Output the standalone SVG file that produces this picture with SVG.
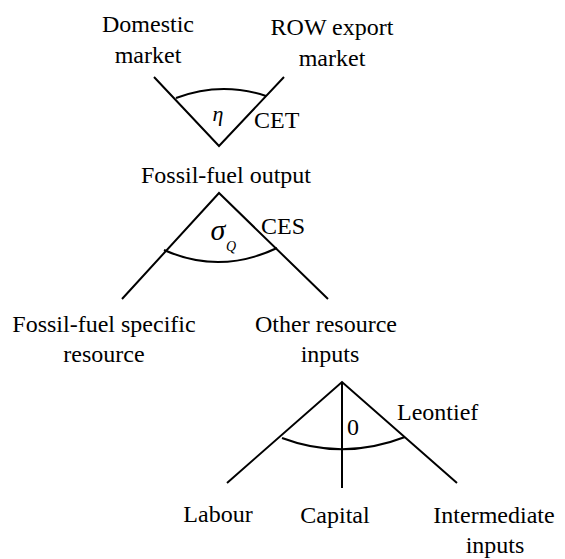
<svg xmlns="http://www.w3.org/2000/svg" width="565" height="559" viewBox="0 0 565 559" font-family="'Liberation Serif', 'Times New Roman', Times, 'DejaVu Serif', serif">
<style>
text{font-family:'Liberation Serif','Times New Roman',Times,'DejaVu Serif',serif;font-size:24px;fill:#000;text-anchor:middle}
.ln{stroke:#000;stroke-width:2;fill:none}
.it{font-style:italic}
.st{text-anchor:start}
</style>
<rect width="565" height="559" fill="#fff"/>
<g id="connectors">
<path class="ln" d="M154,77 L219,146 L284,77"/>
<path class="ln" d="M176,98 Q221,81 266,96"/>
<path class="ln" d="M122,299 L219,193 L328,299"/>
<path class="ln" d="M164,250 Q220,275 277,248"/>
<path class="ln" d="M227,483 L342,382 L457,483"/>
<path class="ln" d="M342,382 L342,488"/>
<path class="ln" d="M282,438 Q343,461 405,437"/>
</g>
<g id="domestic"><text x="148" y="32">Domestic</text><text x="148" y="63">market</text></g>
<g id="row"><text x="332" y="35">ROW export</text><text x="332" y="66">market</text></g>
<g id="cet"><text class="it" x="218" y="121" style="font-size:22px">η</text><text class="st" x="254" y="128">CET</text></g>
<g id="output"><text x="226" y="183">Fossil-fuel output</text></g>
<g id="ces"><text x="218" y="240" style="font-size:30px" class="it">σ</text><text x="231" y="251" class="it" style="font-size:14px">Q</text><text class="st" x="261" y="234">CES</text></g>
<g id="specific"><text x="104" y="332">Fossil-fuel specific</text><text x="104" y="362">resource</text></g>
<g id="other"><text x="326" y="332">Other resource</text><text x="330" y="362">inputs</text></g>
<g id="leontief"><text x="353" y="435">0</text><text class="st" x="397" y="420">Leontief</text></g>
<g id="labour"><text x="218" y="522">Labour</text></g>
<g id="capital"><text x="335" y="523">Capital</text></g>
<g id="intermediate"><text x="494" y="523">Intermediate</text><text x="495" y="553">inputs</text></g>
</svg>
